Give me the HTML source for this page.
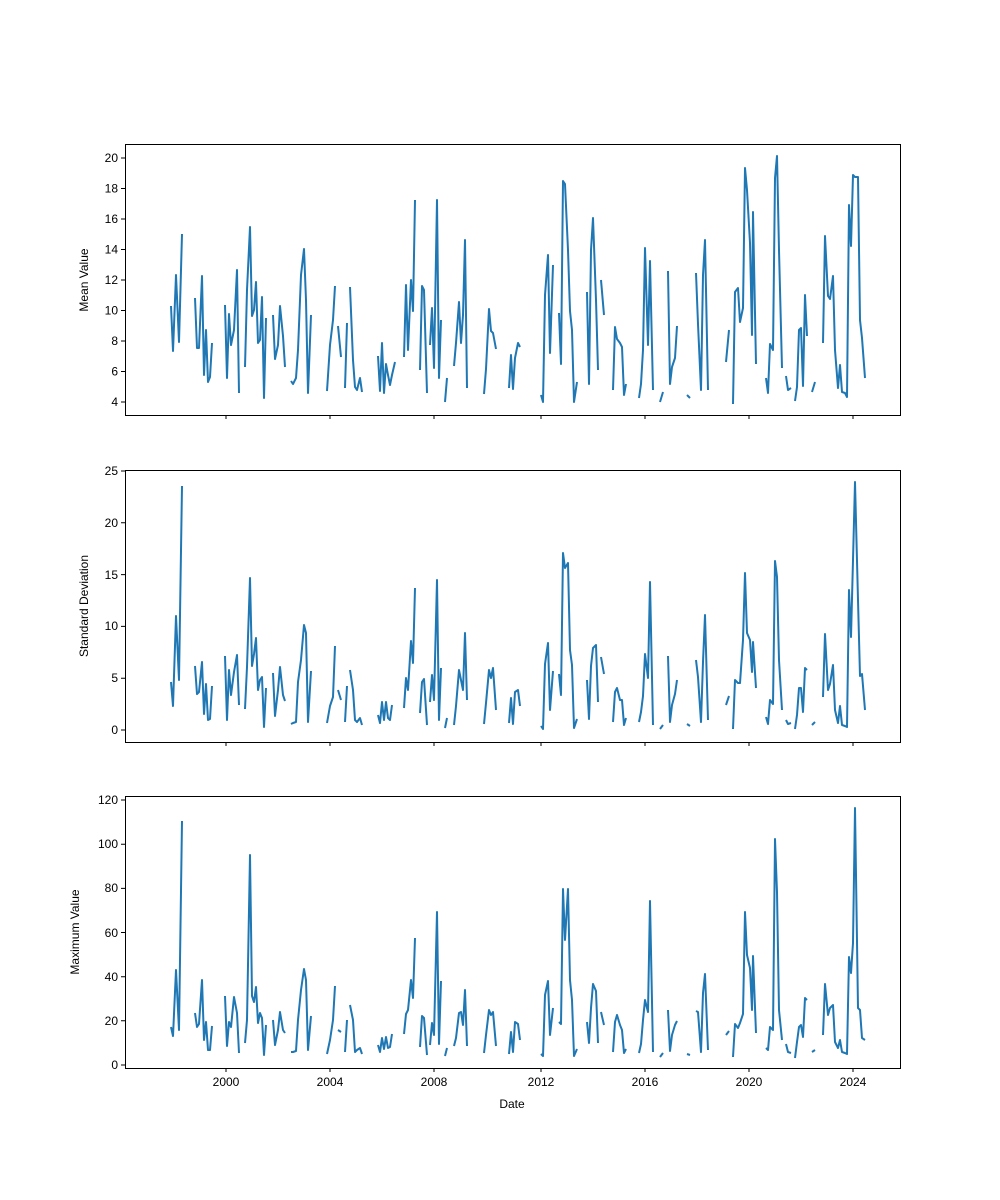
<!DOCTYPE html>
<html><head><meta charset="utf-8"><style>body{margin:0;background:#fff}svg{display:block}text{font-family:"Liberation Sans",sans-serif;font-size:12px;fill:#000}</style></head>
<body>
<svg width="1000" height="1200" viewBox="0 0 1000 1200" xmlns="http://www.w3.org/2000/svg">
<g fill="none" stroke="#000" stroke-width="1">
<rect x="125.5" y="144.5" width="775" height="271"/>
<rect x="125.5" y="470.5" width="775" height="272"/>
<rect x="125.5" y="796.5" width="775" height="272"/>
</g>
<g stroke="#000" stroke-width="1">
<!-- x ticks -->
<path d="M226 415v4M330 415v4M434 415v4M541 415v4M645 415v4M749 415v4M853 415v4"/>
<path d="M226 742v4M330 742v4M434 742v4M541 742v4M645 742v4M749 742v4M853 742v4"/>
<path d="M226 1068v4M330 1068v4M434 1068v4M541 1068v4M645 1068v4M749 1068v4M853 1068v4"/>
<!-- y ticks p1 -->
<path d="M121 402h4M121 371.5h4M121 341h4M121 310.5h4M121 280h4M121 249.5h4M121 219h4M121 188.5h4M121 158h4"/>
<path d="M121 730h4M121 678.2h4M121 626.4h4M121 574.6h4M121 522.8h4M121 471h4"/>
<path d="M121 1065h4M121 1020.8h4M121 976.7h4M121 932.5h4M121 888.4h4M121 844.2h4M121 800h4"/>
</g>
<g text-anchor="end">
<text x="118" y="406">4</text><text x="118" y="375.5">6</text><text x="118" y="345">8</text><text x="118" y="314.5">10</text><text x="118" y="284">12</text><text x="118" y="253.5">14</text><text x="118" y="223">16</text><text x="118" y="192.5">18</text><text x="118" y="162">20</text>
<text x="118" y="734">0</text><text x="118" y="682">5</text><text x="118" y="630">10</text><text x="118" y="579">15</text><text x="118" y="527">20</text><text x="118" y="475">25</text>
<text x="118" y="1069">0</text><text x="118" y="1025">20</text><text x="118" y="981">40</text><text x="118" y="937">60</text><text x="118" y="892">80</text><text x="118" y="848">100</text><text x="118" y="804">120</text>
</g>
<g text-anchor="middle">
<text x="226" y="1086">2000</text><text x="330" y="1086">2004</text><text x="434" y="1086">2008</text><text x="541" y="1086">2012</text><text x="645" y="1086">2016</text><text x="749" y="1086">2020</text><text x="853" y="1086">2024</text>
<text x="512" y="1108">Date</text>
<text transform="translate(88,280) rotate(-90)">Mean Value</text>
<text transform="translate(88,606) rotate(-90)">Standard Deviation</text>
<text transform="translate(79,932) rotate(-90)">Maximum Value</text>
</g>
<g fill="none" stroke="#1f77b4" stroke-width="2" stroke-linejoin="round">
<polyline points="171,306 173,351 176,275 179,342 182,234"/>
<polyline points="195,298 197,348 199,348 202,276 204,375 206,330 208,382 210,377 212,343"/>
<polyline points="225,305 227,378 229,314 231,345 234,330 237,270 239,393"/>
<polyline points="245,367 247,290 250,227 252,316 254,310 256,282 258,343 260,340 262,297 264,398 266,318"/>
<polyline points="273,315 275,359 278,345 280,306 283,336 285,367"/>
<polyline points="291,381 293,384 296,378 298,350 301,275 304,249 306,300 308,393 311,315"/>
<polyline points="327,391 330,345 333,320 335,286"/>
<polyline points="338,326 341,357"/>
<polyline points="345,388 347,323"/>
<polyline points="350,287 353,360 355,387 357,390 360,378 362,392"/>
<polyline points="378,356 380,391 382,343 384,393 386,364 388,375 390,385 392,375 395,362"/>
<polyline points="404,357 406,285 408,350 411,280 413,311 415,200"/>
<polyline points="420,370 422,286 424,290 427,393"/>
<polyline points="430,345 432,308 434,368 437,200 439,378 441,320"/>
<polyline points="445,402 447,378"/>
<polyline points="454,366 456,343 459,302 461,343 463,315 465,240 467,388"/>
<polyline points="484,394 486,369 489,309 491,331 493,333 496,349"/>
<polyline points="509,388 511,355 513,389 515,358 518,343 520,347"/>
<polyline points="541,395 543,402 545,295 548,255 550,353 553,265"/>
<polyline points="559,313 561,364 563,181 565,184 568,250 570,311 572,330 574,402 577,382"/>
<polyline points="587,292 589,384 591,250 593,218 596,300 598,370"/>
<polyline points="601,280 604,315"/>
<polyline points="613,390 615,327 617,339 620,343 622,347 624,395 626,384"/>
<polyline points="639,398 641,384 643,350 645,248 648,345 650,261 653,390"/>
<polyline points="660,402 663,392"/>
<polyline points="668,271 670,384 672,367 675,358 677,326"/>
<polyline points="687,395 690,398"/>
<polyline points="696,273 698,324 701,390 703,275 705,240 708,390"/>
<polyline points="726,362 729,330"/>
<polyline points="733,404 735,292 738,288 740,322 743,308 745,168 747,190 750,243 752,335 753,212 756,364"/>
<polyline points="766,378 768,393 770,344 773,350 775,178 777,156 779,250 782,368"/>
<polyline points="786,376 788,390 791,388"/>
<polyline points="795,401 797,387 799,330 801,328 803,386 805,295 807,336"/>
<polyline points="812,392 815,382"/>
<polyline points="823,343 825,236 828,296 830,299 833,276 835,350 838,388 840,365 842,392 845,393 847,397 849,205 851,246 853,175 855,177 858,177 860,320 862,338 865,378"/>

<polyline points="171,682 173,706 176,616 179,680 182,486"/>
<polyline points="195,666 197,694 199,692 202,662 204,714 206,684 208,720 210,719 212,686"/>
<polyline points="225,656 227,720 229,670 231,695 234,672 237,655 239,705"/>
<polyline points="245,709 247,667 250,578 252,666 254,654 256,638 258,690 260,680 262,677 264,727 266,688"/>
<polyline points="273,673 275,716 278,690 280,667 283,695 285,701"/>
<polyline points="291,724 293,723 296,722 298,682 301,660 304,625 306,633 308,722 311,671"/>
<polyline points="327,723 330,706 333,697 335,646"/>
<polyline points="338,690 341,700"/>
<polyline points="345,722 347,686"/>
<polyline points="350,670 353,690 355,720 357,722 360,718 362,725"/>
<polyline points="378,715 380,723 382,702 384,720 386,702 388,718 390,720 392,705"/>
<polyline points="404,708 406,678 408,690 411,641 413,663 415,588"/>
<polyline points="420,713 422,682 424,679 427,725"/>
<polyline points="430,702 432,675 434,700 437,580 439,720 441,668"/>
<polyline points="445,728 447,718"/>
<polyline points="454,725 456,706 459,670 461,680 463,690 465,633 467,700"/>
<polyline points="484,724 486,703 489,670 491,678 493,668 496,710"/>
<polyline points="509,723 511,698 513,724 515,692 518,690 520,706"/>
<polyline points="541,726 543,729 545,664 548,643 550,710 553,671"/>
<polyline points="559,674 561,695 563,553 565,568 568,563 570,650 572,665 574,728 577,719"/>
<polyline points="587,680 589,719 591,666 593,648 596,645 598,702"/>
<polyline points="601,657 604,674"/>
<polyline points="613,722 615,692 617,688 620,700 622,700 624,725 626,718"/>
<polyline points="639,722 641,712 643,696 645,654 648,678 650,582 653,725"/>
<polyline points="660,729 663,725"/>
<polyline points="668,656 670,722 672,705 675,694 677,680"/>
<polyline points="687,724 690,726"/>
<polyline points="696,660 698,677 701,722 703,662 705,615 708,720"/>
<polyline points="726,705 729,696"/>
<polyline points="733,729 735,680 738,683 740,683 743,640 745,573 747,633 750,640 752,672 753,642 756,688"/>
<polyline points="766,717 768,724 770,700 773,704 775,561 777,577 779,660 782,710"/>
<polyline points="786,720 788,724 791,723"/>
<polyline points="795,729 797,715 799,688 801,688 803,712 805,668 807,670"/>
<polyline points="812,725 815,722"/>
<polyline points="823,697 825,634 828,690 830,684 833,665 835,710 838,723 840,706 842,725 845,726 847,727 849,590 851,637 853,560 855,482 858,600 860,676 862,674 865,710"/>

<polyline points="171,1027 173,1036 176,970 179,1030 182,821"/>
<polyline points="195,1013 197,1027 199,1024 202,980 204,1040 206,1022 208,1050 210,1050 212,1026"/>
<polyline points="225,996 227,1046 229,1022 231,1027 234,997 237,1013 239,1053"/>
<polyline points="245,1043 247,1020 250,855 252,996 254,1002 256,987 258,1023 260,1013 262,1018 264,1055 266,1025"/>
<polyline points="273,1020 275,1045 278,1030 280,1012 283,1030 285,1033"/>
<polyline points="291,1052 293,1052 296,1051 298,1020 301,990 304,969 306,980 308,1050 311,1016"/>
<polyline points="327,1054 330,1040 333,1020 335,986"/>
<polyline points="338,1030 341,1032"/>
<polyline points="345,1052 347,1020"/>
<polyline points="350,1005 353,1020 355,1052 357,1050 360,1048 362,1054"/>
<polyline points="378,1045 380,1052 382,1038 384,1049 386,1037 388,1048 390,1047 392,1034"/>
<polyline points="404,1034 406,1014 408,1010 411,980 413,998 415,938"/>
<polyline points="420,1047 422,1016 424,1018 427,1055"/>
<polyline points="430,1045 432,1023 434,1035 437,912 439,1044 441,981"/>
<polyline points="445,1056 447,1048"/>
<polyline points="454,1046 456,1038 459,1013 461,1012 463,1025 465,990 467,1046"/>
<polyline points="484,1053 486,1035 489,1010 491,1015 493,1012 496,1046"/>
<polyline points="509,1054 511,1032 513,1052 515,1022 518,1024 520,1040"/>
<polyline points="541,1054 543,1056 545,995 548,981 550,1035 553,1008"/>
<polyline points="559,1022 561,1024 563,889 565,940 568,889 570,980 572,1000 574,1056 577,1049"/>
<polyline points="587,1022 589,1043 591,1008 593,984 596,991 598,1043"/>
<polyline points="601,1012 604,1025"/>
<polyline points="613,1052 615,1022 617,1015 620,1025 622,1030 624,1053 626,1049"/>
<polyline points="639,1053 641,1044 643,1020 645,1000 648,1012 650,901 653,1052"/>
<polyline points="660,1057 663,1053"/>
<polyline points="668,1010 670,1051 672,1035 675,1025 677,1021"/>
<polyline points="687,1054 690,1055"/>
<polyline points="696,1011 698,1012 701,1052 703,993 705,974 708,1050"/>
<polyline points="726,1035 729,1031"/>
<polyline points="733,1057 735,1024 738,1028 740,1023 743,1014 745,912 747,955 750,968 752,1010 753,956 756,1033"/>
<polyline points="766,1048 768,1050 770,1027 773,1030 775,839 777,892 779,1010 782,1040"/>
<polyline points="786,1044 788,1052 791,1053"/>
<polyline points="795,1058 797,1042 799,1027 801,1025 803,1037 805,998 807,1000"/>
<polyline points="812,1052 815,1050"/>
<polyline points="823,1035 825,984 828,1015 830,1008 833,1005 835,1042 838,1048 840,1040 842,1052 845,1053 847,1054 849,957 851,973 853,943 855,808 858,1008 860,1010 862,1038 865,1040"/>
</g>
</svg>
</body></html>
